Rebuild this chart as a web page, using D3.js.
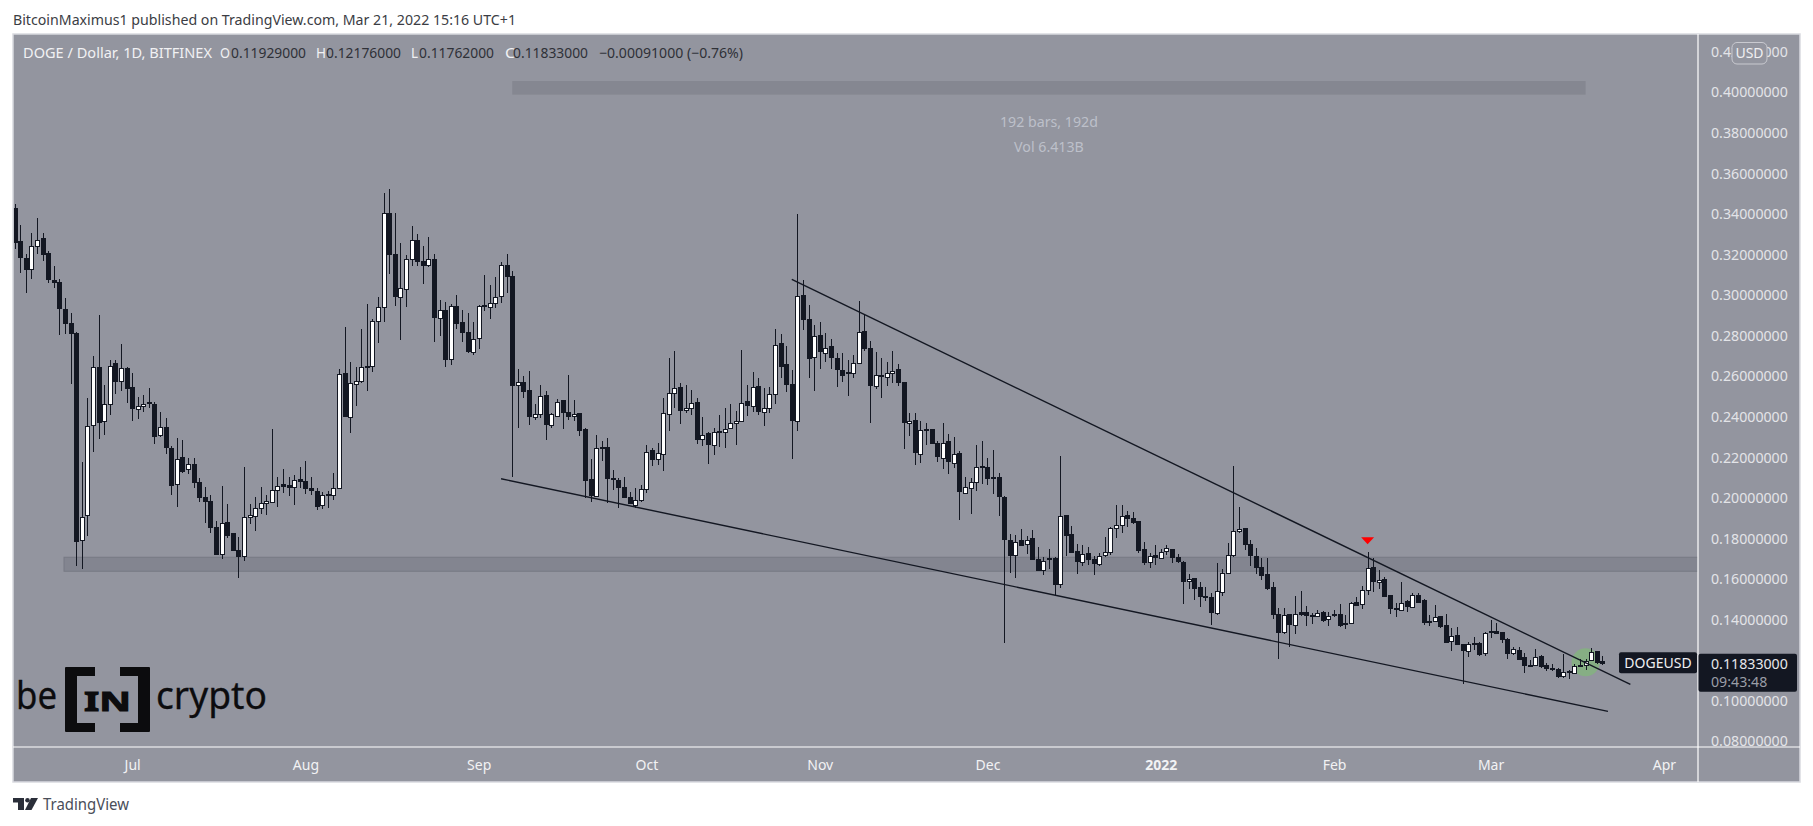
<!DOCTYPE html>
<html><head><meta charset="utf-8">
<script src="https://cdn.jsdelivr.net/npm/d3@7/dist/d3.min.js"></script>
<style>html,body{margin:0;padding:0;background:#fff;overflow:hidden}svg{display:block}text{font-family:"Noto Sans",sans-serif}</style>
</head><body><svg id="c" width="1813" height="826"></svg>
<script>
const firstDay = "2021-06-10";
const opens = [
.3426,.3265,.3180,.3125,.3242,.3278,.3204,.3071,.3061,.2928,
.2859,.2812,.1794,.1917,.2356,.2644,.2381,.2465,.2662,.2572,
.2639,.2544,.2440,.2455,.2470,.2461,.2307,.2346,.2244,.2070,
.2198,.2139,.2164,.2075,.2001,.1982,.1853,.1725,.1878,.1824,
.1740,.1715,.1908,.1912,.1952,.1972,.1982,.2041,.2065,.2060,
.2052,.2090,.2080,.2046,.2034,.1967,.2016,.2016,.2051,.2613,
.2401,.2562,.2578,.2647,.2647,.2874,.2943,.3402,.3199,.2992,
.3032,.3180,.3272,.3165,.3150,.3178,.2889,.2927,.2687,.2945,
.2864,.2815,.2721,.2785,.2948,.2943,.2963,.2992,.3145,.3091,
.2553,.2570,.2529,.2401,.2415,.2504,.2356,.2406,.2480,.2420,
.2406,.2415,.2337,.2090,.2011,.2249,.2248,.2095,.2087,.2051,
.2001,.1967,.1991,.2046,.2233,.2189,.2218,.2415,.2519,.2544,
.2432,.2442,.2470,.2287,.2317,.2263,.2330,.2327,.2346,.2371,
.2381,.2475,.2455,.2549,.2425,.2445,.2514,.2761,.2657,.2558,
.2381,.2997,.2882,.2692,.2800,.2716,.2746,.2687,.2631,.2618,
.2618,.2667,.2820,.2736,.2553,.2606,.2598,.2616,.2632,.2568,
.2371,.2381,.2218,.2336,.2336,.2267,.2198,.2277,.2172,.2218,
.2024,.2050,.2080,.2154,.2149,.2100,.2100,.2001,.1791,.1720,
.1791,.1771,.1799,.1695,.1646,.1700,.1702,.1577,.1912,.1819,
.1735,.1685,.1725,.1695,.1674,.1715,.1733,.1853,.1868,.1912,
.1902,.1883,.1745,.1681,.1715,.1705,.1735,.1745,.1705,.1685,
.1592,.1602,.1557,.1513,.1508,.1434,.1538,.1631,.1718,.1838,
.1848,.1769,.1710,.1656,.1621,.1557,.1424,.1340,.1424,.1375,
.1434,.1434,.1423,.1419,.1434,.1399,.1424,.1426,.1377,.1383,
.1485,.1474,.1547,.1656,.1587,.1597,.1518,.1455,.1449,.1488,
.1464,.1521,.1495,.1393,.1391,.1414,.1370,.1293,.1321,.1276,
.1247,.1285,.1285,.1237,.1344,.1344,.1335,.1301,.1235,.1250,
.1212,.1173,.1174,.1219,.1173,.1158,.1153,.1120,.1143,.1135,
.1174,.1171,.1197,.1242,.1193];
const highs = [
.3448,.3344,.3201,.3306,.3380,.3306,.3216,.3142,.3078,.2986,
.2909,.2816,.2175,.2489,.2698,.2900,.2555,.2678,.2678,.2759,
.2646,.2613,.2498,.2506,.2539,.2473,.2420,.2392,.2254,.2294,
.2282,.2194,.2194,.2095,.2051,.2013,.1886,.2057,.1968,.1824,
.1804,.2152,.1968,.2001,.2052,.2013,.2338,.2100,.2141,.2103,
.2111,.2149,.2180,.2100,.2046,.2029,.2034,.2120,.2632,.2841,
.2669,.2642,.2831,.2953,.2879,.2987,.3500,.3520,.3402,.3254,
.3195,.3338,.3298,.3241,.3283,.3201,.2973,.2964,.2953,.2999,
.2925,.2909,.2864,.2948,.3098,.3047,.3089,.3162,.3201,.3116,
.2634,.2601,.2624,.2461,.2555,.2526,.2415,.2486,.2481,.2604,
.2481,.2419,.2341,.2189,.2307,.2279,.2295,.2136,.2095,.2100,
.2029,.2046,.2062,.2258,.2246,.2267,.2489,.2688,.2721,.2563,
.2555,.2531,.2489,.2396,.2322,.2341,.2407,.2440,.2461,.2429,
.2728,.2555,.2619,.2588,.2539,.2547,.2831,.2807,.2747,.2629,
.3398,.3073,.2948,.2851,.2864,.2810,.2780,.2711,.2711,.2678,
.2703,.2969,.2900,.2770,.2718,.2690,.2667,.2723,.2657,.2568,
.2415,.2415,.2376,.2369,.2336,.2280,.2369,.2312,.2297,.2230,
.2100,.2095,.2259,.2277,.2193,.2234,.2123,.2006,.1819,.1815,
.1843,.1810,.1838,.1755,.1705,.1746,.1705,.2205,.1914,.1860,
.1769,.1766,.1758,.1712,.1728,.1804,.1856,.1963,.1963,.1935,
.1930,.1884,.1779,.1725,.1764,.1745,.1764,.1745,.1722,.1689,
.1623,.1605,.1584,.1557,.1531,.1676,.1646,.1774,.2156,.1952,
.1850,.1791,.1750,.1700,.1702,.1582,.1454,.1454,.1424,.1515,
.1539,.1465,.1429,.1446,.1442,.1437,.1446,.1475,.1421,.1487,
.1511,.1564,.1730,.1700,.1643,.1610,.1521,.1478,.1582,.1495,
.1528,.1528,.1500,.1421,.1469,.1414,.1424,.1355,.1360,.1278,
.1289,.1311,.1289,.1339,.1396,.1380,.1339,.1306,.1263,.1262,
.1232,.1199,.1252,.1222,.1183,.1179,.1158,.1229,.1150,.1179,
.1202,.1202,.1257,.1245,.1218];
const lows = [
.3226,.3109,.3010,.3079,.3201,.3168,.3056,.3032,.2803,.2807,
.2562,.1663,.1649,.1811,.2226,.2290,.2309,.2407,.2511,.2527,
.2468,.2379,.2387,.2424,.2440,.2266,.2297,.2213,.2014,.1955,
.2120,.2115,.2046,.1980,.1876,.1824,.1715,.1696,.1799,.1738,
.1605,.1689,.1870,.1837,.1919,.1916,.1975,.1955,.2024,.2008,
.1963,.2046,.2018,.2013,.1939,.1945,.1950,.1988,.2042,.2399,
.2320,.2452,.2563,.2527,.2621,.2764,.2866,.3102,.2945,.2777,
.2941,.3142,.3142,.3055,.3135,.2767,.2798,.2646,.2654,.2831,
.2765,.2713,.2703,.2733,.2922,.2879,.2935,.2961,.3010,.2103,
.2343,.2491,.2358,.2383,.2394,.2284,.2343,.2396,.2340,.2383,
.2379,.2304,.2000,.1980,.2005,.2182,.1975,.2037,.1950,.1996,
.1967,.1947,.1980,.2024,.2156,.2161,.2133,.2330,.2440,.2363,
.2419,.2406,.2264,.2256,.2167,.2210,.2251,.2246,.2341,.2259,
.2373,.2402,.2424,.2409,.2355,.2419,.2461,.2588,.2519,.2189,
.2330,.2826,.2588,.2527,.2632,.2670,.2634,.2547,.2570,.2503,
.2590,.2659,.2723,.2369,.2534,.2491,.2552,.2563,.2550,.2239,
.2303,.2160,.2172,.2259,.2264,.2177,.2141,.2116,.2144,.1889,
.2016,.1919,.2034,.2065,.2064,.2017,.1911,.1284,.1630,.1605,
.1763,.1722,.1692,.1639,.1618,.1648,.1519,.1554,.1712,.1728,
.1623,.1664,.1667,.1620,.1664,.1705,.1718,.1802,.1825,.1856,
.1870,.1728,.1669,.1653,.1667,.1702,.1717,.1679,.1676,.1475,
.1547,.1495,.1460,.1488,.1372,.1421,.1515,.1626,.1708,.1824,
.1741,.1662,.1623,.1593,.1544,.1404,.1205,.1327,.1265,.1330,
.1416,.1367,.1376,.1409,.1386,.1367,.1413,.1363,.1354,.1377,
.1465,.1452,.1521,.1534,.1547,.1511,.1426,.1413,.1442,.1437,
.1459,.1485,.1372,.1368,.1385,.1358,.1281,.1245,.1271,.1079,
.1215,.1248,.1219,.1221,.1306,.1326,.1281,.1206,.1225,.1202,
.1137,.1166,.1169,.1161,.1143,.1145,.1109,.1112,.1107,.1132,
.1166,.1150,.1192,.1179,.1176];
const closes = [
.3259,.3188,.3125,.3239,.3272,.3199,.3075,.3061,.2933,.2858,
.2808,.1788,.1906,.2355,.2642,.2374,.2463,.2650,.2572,.2637,
.2542,.2438,.2453,.2463,.2463,.2304,.2346,.2246,.2064,.2192,
.2131,.2164,.2074,.2000,.1980,.1852,.1719,.1876,.1815,.1738,
.1709,.1906,.1916,.1950,.1975,.1982,.2039,.2059,.2055,.2051,
.2088,.2078,.2044,.2034,.1960,.2014,.2009,.2049,.2611,.2399,
.2567,.2577,.2646,.2641,.2869,.2941,.3405,.3198,.2991,.3035,
.3178,.3272,.3168,.3144,.3178,.2892,.2927,.2685,.2946,.2859,
.2813,.2720,.2784,.2943,.2943,.2961,.2991,.3145,.3089,.2552,
.2568,.2527,.2399,.2414,.2503,.2360,.2411,.2473,.2420,.2399,
.2414,.2332,.2088,.2009,.2246,.2246,.2093,.2088,.2054,.2000,
.1970,.1990,.2044,.2226,.2187,.2221,.2419,.2517,.2542,.2429,
.2442,.2468,.2286,.2309,.2261,.2325,.2325,.2340,.2369,.2379,
.2468,.2453,.2547,.2424,.2443,.2512,.2754,.2650,.2557,.2379,
.2996,.2877,.2690,.2798,.2720,.2739,.2690,.2631,.2608,.2613,
.2665,.2818,.2734,.2552,.2606,.2601,.2616,.2624,.2567,.2369,
.2379,.2221,.2335,.2333,.2266,.2202,.2271,.2177,.2216,.2029,
.2054,.2078,.2152,.2147,.2093,.2095,.2004,.1792,.1718,.1782,
.1766,.1792,.1694,.1643,.1689,.1694,.1575,.1911,.1812,.1731,
.1684,.1723,.1697,.1674,.1713,.1731,.1851,.1866,.1911,.1896,
.1881,.1738,.1679,.1713,.1705,.1733,.1750,.1704,.1684,.1590,
.1600,.1552,.1511,.1506,.1434,.1541,.1630,.1718,.1837,.1847,
.1768,.1713,.1654,.1615,.1554,.1423,.1334,.1423,.1373,.1427,
.1426,.1418,.1418,.1432,.1393,.1416,.1418,.1372,.1383,.1482,
.1470,.1543,.1654,.1585,.1595,.1515,.1452,.1451,.1482,.1462,
.1521,.1487,.1388,.1388,.1413,.1367,.1285,.1317,.1276,.1245,
.1280,.1278,.1229,.1334,.1337,.1334,.1301,.1230,.1255,.1206,
.1171,.1169,.1215,.1169,.1156,.1153,.1117,.1140,.1137,.1171,
.1168,.1192,.1238,.1186,.1183];
const priceTicks = [.42,.40,.38,.36,.34,.32,.30,.28,.26,.24,.22,.20,.18,.16,.14,.10,.08];
const timeTickDates = ["2021-07-01","2021-08-01","2021-09-01","2021-10-01","2021-11-01","2021-12-01","2022-01-01","2022-02-01","2022-03-01","2022-04-01"];
const timeTickLabels = ["Jul","Aug","Sep","Oct","Nov","Dec","2022","Feb","Mar","Apr"];
const upperLineDates = ["2021-10-27","2022-03-26"], upperLinePrices = [.3076,.1079];
const lowerLineDates = ["2021-09-05","2022-03-22"], lowerLinePrices = [.2093,.0946];
const bandDates = ["2021-06-19","2022-06-30"], bandPrices = [.1706,.1637];
const rangeDates = ["2021-09-07","2022-03-18"], rangePrices = [.4054,.3987];
const arrowDate = "2022-02-07", arrowPrice = .1787;
const circleDate = "2022-03-18", circlePrice = .1188;
const lastClose = .11833, lastCloseLabel = "0.11833000", countdownLabel = "09:43:48";

const BG="#93959f", DARK="#131722", AXT="#e3e4e8";
const L=13,T=34,PR=1698,PB=747,R=1800,B=782;
const svg=d3.select("#c");
const day=s=>new Date(s+"T00:00:00Z");
const dates=opens.map((_,i)=>d3.utcDay.offset(day(firstDay),i));
const x=d3.scaleUtc().domain([dates[0],dates[dates.length-1]]).range([14.7,1602.4]);
const y=d3.scaleLinear().domain([.08,.40]).range([741,92]);
const X=s=>x(day(s));

svg.append("text").attr("x",13).attr("y",25).attr("font-size",14.5).attr("fill","#3b3d44").attr("textLength",503).attr("lengthAdjust","spacingAndGlyphs")
  .text("BitcoinMaximus1 published on TradingView.com, Mar 21, 2022 15:16 UTC+1");
svg.append("rect").attr("x",L).attr("y",T).attr("width",R-L).attr("height",B-T).attr("fill",BG).attr("stroke","#d9dae0").attr("stroke-width",1.5);

svg.append("defs").append("clipPath").attr("id","plot").append("rect").attr("x",L+1).attr("y",T+1).attr("width",PR-L-1).attr("height",PB-T-1);
const plot=svg.append("g").attr("clip-path","url(#plot)");

plot.append("rect").attr("x",X(rangeDates[0])).attr("width",X(rangeDates[1])-X(rangeDates[0]))
  .attr("y",y(rangePrices[0])).attr("height",y(rangePrices[1])-y(rangePrices[0])).attr("fill","#858791");
const by0=y(bandPrices[0]),by1=y(bandPrices[1]),bx=X(bandDates[0])-1,bw=X(bandDates[1])-bx;
plot.append("rect").attr("x",bx).attr("y",by0).attr("width",bw).attr("height",by1-by0).attr("fill","#838590").attr("stroke","#777984").attr("stroke-width",1);

plot.append("circle").attr("cx",X(circleDate)).attr("cy",y(circlePrice)).attr("r",14).attr("fill","#7cc26d").attr("fill-opacity",.55);

const candles=plot.append("g").attr("shape-rendering","crispEdges");
const idx=d3.range(opens.length);
const cx=i=>Math.round(x(dates[i]));
candles.selectAll("line").data(idx).join("line")
  .attr("x1",i=>cx(i)+.5).attr("x2",i=>cx(i)+.5)
  .attr("y1",i=>y(highs[i])).attr("y2",i=>y(lows[i]))
  .attr("stroke",DARK).attr("stroke-width",1);
candles.selectAll("rect").data(idx).join("rect")
  .attr("x",i=>cx(i)-1.5)
  .attr("width",4)
  .attr("y",i=>Math.round(y(Math.max(opens[i],closes[i])))+.5)
  .attr("height",i=>Math.max(1,Math.round(Math.abs(y(opens[i])-y(closes[i])))))
  .attr("fill",i=>closes[i]>=opens[i]?"#ffffff":DARK)
  .attr("stroke",DARK).attr("stroke-width",1);

const tl=d3.line().x(d=>X(d[0])).y(d=>y(d[1]));
plot.append("path").attr("d",tl(d3.zip(upperLineDates,upperLinePrices))).attr("fill","none").attr("stroke",DARK).attr("stroke-width",1.4);
plot.append("path").attr("d",tl(d3.zip(lowerLineDates,lowerLinePrices))).attr("fill","none").attr("stroke",DARK).attr("stroke-width",1.4);

plot.append("path").attr("transform",`translate(${X(arrowDate)},${y(arrowPrice)})`)
  .attr("d","M-6.5,-3.5 L6.5,-3.5 L0,3.5 Z").attr("fill","#ff0000");

const rc=(X(rangeDates[0])+X(rangeDates[1]))/2;
svg.append("text").attr("x",rc).attr("y",126.7).attr("text-anchor","middle").attr("font-size",14.2).attr("fill","#bdc0ca").text("192 bars, 192d");
svg.append("text").attr("x",rc).attr("y",151.7).attr("text-anchor","middle").attr("font-size",14.2).attr("fill","#bdc0ca").text("Vol 6.413B");

// header legend
const head=svg.append("g").attr("font-size",14.2);
const hd=(tx,xx,w,col)=>head.append("text").attr("x",xx).attr("y",58).attr("fill",col).attr("textLength",w).attr("lengthAdjust","spacingAndGlyphs").text(tx);
hd("DOGE / Dollar, 1D, BITFINEX",23,189,"#f1f1f3");
[["O","0.11929000",220,231],["H","0.12176000",316,326],["L","0.11762000",411,419],["C","0.11833000",505,513]].forEach(r=>{
  hd(r[0],r[2],r[0]=="L"?7:10,"#f1f1f3"); hd(r[1],r[3],75,"#2f3138");
});
hd("\u22120.00091000 (\u22120.76%)",599,144,"#2f3138");

// logo
const logo=svg.append("g").attr("fill","#0c0c0e");
logo.append("text").attr("x",16).attr("y",709).attr("font-family","Lato").attr("font-size",38).attr("stroke","#0c0c0e").attr("stroke-width",.3).attr("textLength",41).attr("lengthAdjust","spacingAndGlyphs").text("be");
logo.append("text").attr("x",156).attr("y",709).attr("font-family","Lato").attr("font-size",38).attr("stroke","#0c0c0e").attr("stroke-width",.3).attr("textLength",111).attr("lengthAdjust","spacingAndGlyphs").text("crypto");
logo.append("path").attr("d","M65,668 a1,1 0 0 1 1,-1 H95 V676 H77 V723 H95 V732 H66 a1,1 0 0 1 -1,-1 Z");
logo.append("path").attr("d","M150,668 a1,1 0 0 0 -1,-1 H120 V676 H138 V723 H120 V732 H149 a1,1 0 0 0 1,-1 Z");
logo.append("text").attr("x",84).attr("y",711).attr("font-family","Liberation Serif").attr("font-weight",700).attr("font-size",27).attr("stroke","#0c0c0e").attr("stroke-width",1).attr("textLength",47).attr("lengthAdjust","spacingAndGlyphs").text("IN");

// axes
const yAxis=d3.axisRight(y).tickValues(priceTicks).tickSize(0).tickPadding(0).tickFormat(d=>d.toFixed(8));
const gy=svg.append("g").attr("transform","translate(1711,0)").call(yAxis);
gy.select(".domain").remove();
gy.selectAll("text").attr("font-family",'"Noto Sans"').attr("font-size",14.2).attr("fill",AXT).attr("x",0).attr("dy",".35em");
const xAxis=d3.axisBottom(x).tickValues(timeTickDates.map(day)).tickSize(0).tickPadding(0).tickFormat((d,i)=>timeTickLabels[i]);
const gx=svg.append("g").attr("transform","translate(0,765)").call(xAxis);
gx.select(".domain").remove();
gx.selectAll("text").attr("font-family",'"Noto Sans"').attr("font-size",14).attr("fill","#f2f2f4").attr("y",0).attr("dy",".35em")
  .attr("font-weight",(d,i)=>timeTickLabels[i]=="2022"?700:400);

svg.append("line").attr("x1",PR).attr("x2",PR).attr("y1",T).attr("y2",B).attr("stroke","#fff").attr("stroke-width",1.2);
svg.append("line").attr("x1",L).attr("x2",R).attr("y1",PB).attr("y2",PB).attr("stroke","#fff").attr("stroke-width",1.2);

// USD badge
svg.append("rect").attr("x",1732).attr("y",42.5).attr("width",35).attr("height",21.5).attr("rx",5).attr("fill",BG).attr("stroke","#c9cad0");
svg.append("text").attr("x",1749.5).attr("y",58).attr("text-anchor","middle").attr("font-size",14).attr("fill","#f0f0f2").text("USD");

// last price labels
const ly=y(lastClose);
svg.append("rect").attr("x",1619).attr("y",ly-11).attr("width",78).attr("height",21).attr("rx",2).attr("fill",DARK);
svg.append("text").attr("x",1658).attr("y",ly).attr("dy",".35em").attr("text-anchor","middle").attr("font-size",14).attr("fill","#f0f0f2").text("DOGEUSD");
svg.append("rect").attr("x",1698.5).attr("y",ly-9.5).attr("width",98.5).attr("height",38).attr("rx",2).attr("fill",DARK);
svg.append("text").attr("x",1711).attr("y",ly+1).attr("dy",".35em").attr("font-size",14.2).attr("fill","#e6e7ea").text(lastCloseLabel);
svg.append("text").attr("x",1711).attr("y",ly+19).attr("dy",".35em").attr("font-size",14.2).attr("fill","#9a9da6").text(countdownLabel);

// TradingView mark
const tv=svg.append("g").attr("fill","#2a2e39");
tv.append("path").attr("d","M13,798 H24 V810 H18 V802.5 H13 Z");
tv.append("circle").attr("cx",27.5).attr("cy",800.3).attr("r",2.3);
tv.append("path").attr("d","M31,798 H38 L31.5,810 H25 Z");
svg.append("text").attr("x",43).attr("y",810).attr("font-size",15.5).attr("fill","#4a4e59").attr("textLength",86).attr("lengthAdjust","spacingAndGlyphs").text("TradingView");
</script></body></html>
